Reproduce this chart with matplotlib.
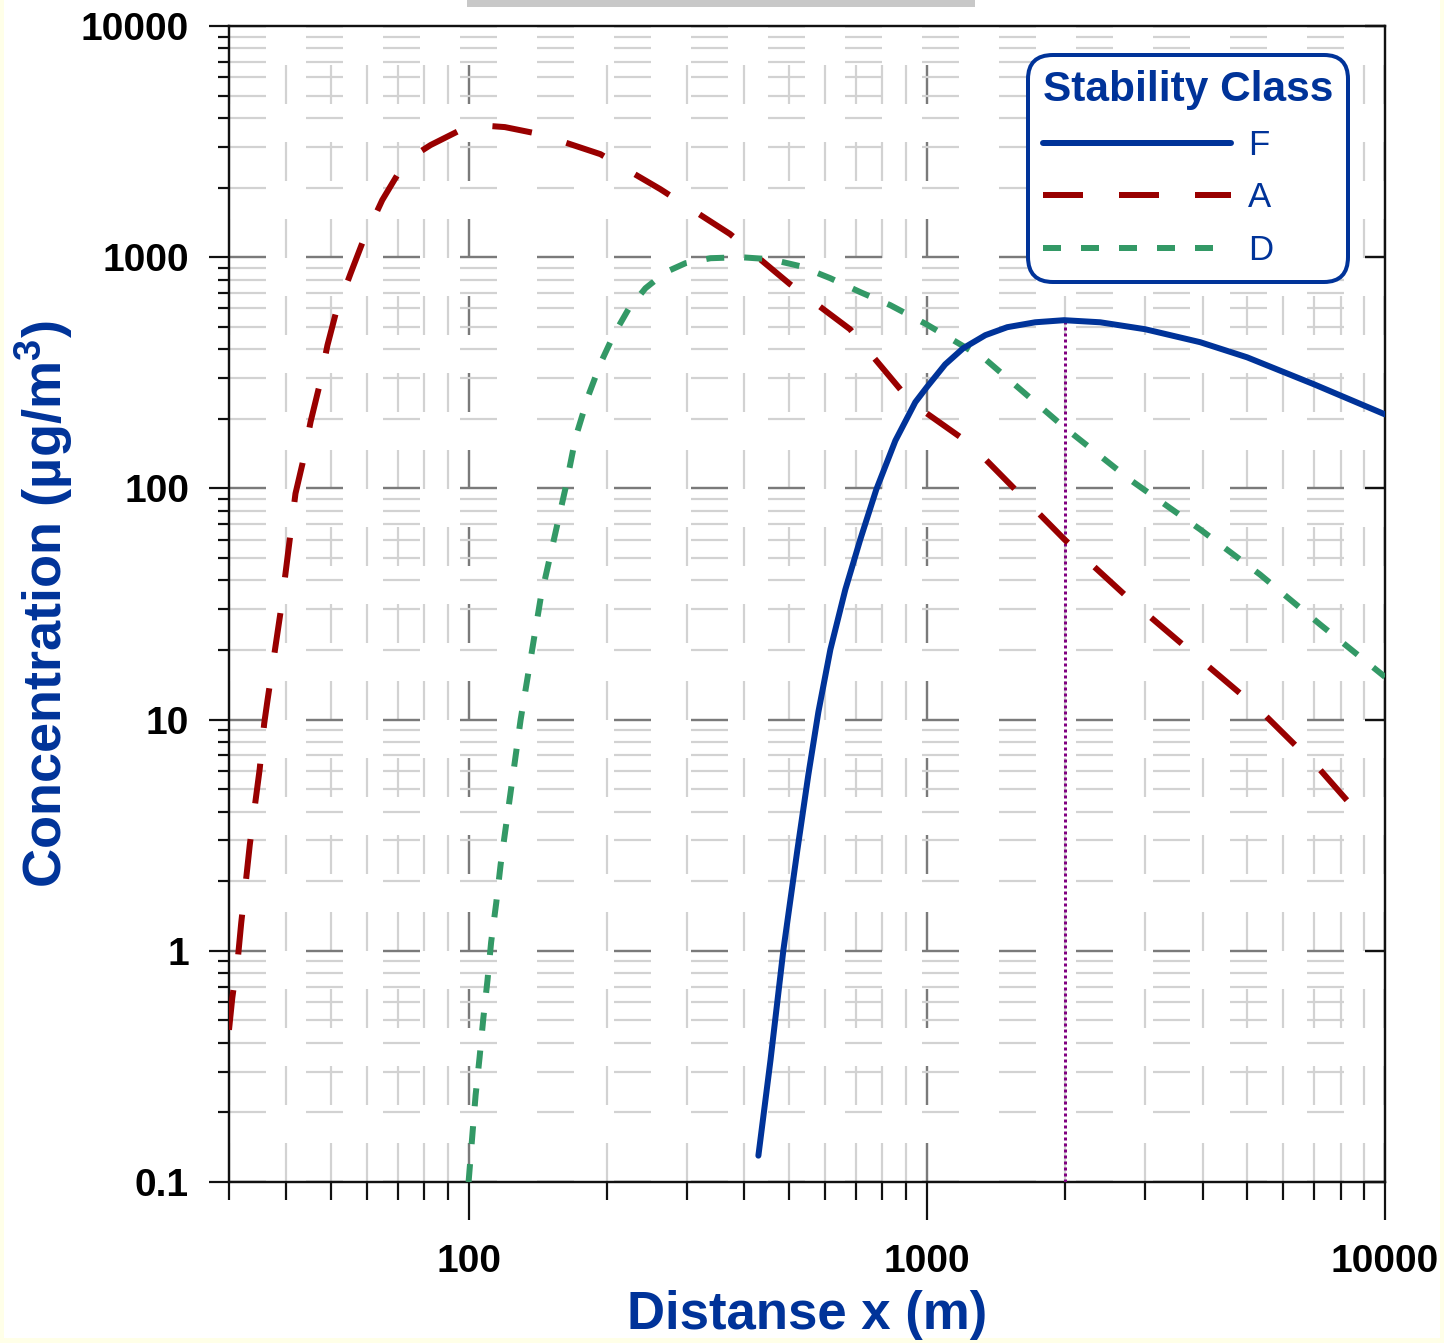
import matplotlib
matplotlib.use("Agg")
import matplotlib.pyplot as plt
from matplotlib.patches import Rectangle
from matplotlib.ticker import LogLocator, FixedLocator, NullFormatter, FixedFormatter

plt.rcParams['lines.scale_dashes'] = False
plt.rcParams['font.family'] = ['Liberation Sans', 'DejaVu Sans']
plt.rcParams['mathtext.fontset'] = 'custom'
plt.rcParams['mathtext.rm'] = 'Liberation Sans'
plt.rcParams['mathtext.bf'] = 'Liberation Sans:bold'
plt.rcParams['mathtext.it'] = 'Liberation Sans:italic'

# ---------------- data ----------------
x_F = [429, 456, 486.5, 522, 551.5, 580, 616, 664, 716, 776, 854, 944, 1000, 1097, 1201, 1342,
       1498, 1724, 1994, 2390, 2997, 3949, 5000, 7000, 10000]
y_F = [0.13, 0.3375, 1.01, 2.74, 5.78, 10.8, 20.1, 36.5, 60.2, 99, 161, 236, 274, 344, 404, 460,
       498, 523, 534, 523, 488, 429, 369, 282, 209]

x_A = [30, 30.5, 31.4, 31.9, 32.7, 33.3, 34.3, 35, 35.8, 36.4, 39, 41.9, 43.4, 45.2, 47.1, 49.2,
       51.3, 55.3, 58.6, 64.8, 70.3, 76, 82.6, 96, 110, 120, 143.6, 194, 262, 372, 503, 680, 926,
       1247, 2000, 2778, 3950, 5330, 7200, 8800]
y_A = [0.455, 0.626, 0.95, 1.32, 2.05, 2.87, 4.5, 6.1, 9.6, 12.1, 30.5, 95, 128, 194, 271, 416,
       572, 853, 1150, 1766, 2311, 2750, 3055, 3548, 3700, 3654, 3400, 2790, 1970, 1260, 764, 488, 235,
       155, 60, 33, 18.2, 11, 6.1, 3.88]

x_D = [100, 102, 103.6, 105.7, 107.7, 110, 112, 114.9, 117.5, 129.9, 143.6, 162.7, 171.2, 182.7,
       194.1, 207.2, 223.3, 243.2, 268.9, 297.4, 337.3, 392.1, 455.7, 529.9, 615.9, 716.1, 832.6,
       997.5, 1342, 1994, 2778, 3949, 5337, 7216, 10000]
y_D = [0.1, 0.163, 0.238, 0.347, 0.512, 0.75, 1.09, 1.61, 2.37, 10, 33.4, 100, 166, 253,
       348, 460, 596, 734, 861, 942, 990, 1000, 980, 914, 811, 706, 620,
       513, 362, 184, 109, 66.5, 42.4, 25.8, 15.3]

x_marker = 2000          # vertical dotted marker at F peak distance
y_marker_top = 539

y_ticks = [0.1, 1, 10, 100, 1000, 10000]
y_ticklabels = ['0.1', '1', '10', '100', '1000', '10000']
x_ticks = [100, 1000, 10000]
x_ticklabels = ['100', '1000', '10000']

labels = ['F', 'A', 'D']
legend_title = 'Stability Class'
xlabel = 'Distanse x (m)'
ylabel = r'Concentration (µg/m$^{\mathbf{3}}$)'

# ---------------- style ----------------
C_F = '#003399'
C_A = '#990000'
C_D = '#339966'
C_TXT = '#003399'
PX = 0.72  # points per pixel at dpi 100

W, H = 1444, 1343
fig = plt.figure(figsize=(W / 100, H / 100), dpi=100, facecolor='#FFFFE8')
fig.patches.append(Rectangle((4 / W, 1 - 1338 / H), (1440 - 4) / W, 1338 / H,
                             transform=fig.transFigure, facecolor='white', edgecolor='none', zorder=-10))
fig.patches.append(Rectangle((467 / W, 1 - 7 / H), (975 - 467) / W, 7 / H,
                             transform=fig.transFigure, facecolor='#C8C8C8', edgecolor='none', zorder=-5))

L, R, T, B = 229, 1385, 26, 1182
ax = fig.add_axes([L / W, 1 - B / H, (R - L) / W, (B - T) / H])
ax.set_xscale('log')
ax.set_yscale('log')
ax.set_xlim(30, 10000)
ax.set_ylim(0.1, 10000)

# ticks
ax.xaxis.set_major_locator(FixedLocator(x_ticks))
ax.xaxis.set_major_formatter(FixedFormatter(x_ticklabels))
ax.xaxis.set_minor_locator(LogLocator(base=10, subs=[2, 3, 4, 5, 6, 7, 8, 9]))
ax.xaxis.set_minor_formatter(NullFormatter())
ax.yaxis.set_major_locator(FixedLocator(y_ticks))
ax.yaxis.set_major_formatter(FixedFormatter(y_ticklabels))
ax.yaxis.set_minor_locator(LogLocator(base=10, subs=[2, 3, 4, 5, 6, 7, 8, 9]))
ax.yaxis.set_minor_formatter(NullFormatter())

tick_col = '#111111'
ax.tick_params(axis='y', which='major', direction='out', length=20 * PX, width=2.2 * PX,
               color=tick_col, labelsize=28, pad=20 * PX)
ax.tick_params(axis='y', which='minor', direction='out', length=11 * PX, width=2.2 * PX, color=tick_col)
ax.tick_params(axis='x', which='major', direction='out', length=38 * PX, width=2.2 * PX,
               color=tick_col, labelsize=28, pad=24 * PX)
ax.tick_params(axis='x', which='minor', direction='out', length=18 * PX, width=2.2 * PX, color=tick_col)
for lab in ax.get_xticklabels() + ax.get_yticklabels():
    lab.set_fontweight('bold')

for sp in ax.spines.values():
    sp.set_color('#111111')
    sp.set_linewidth(2.4 * PX)

# grid: dashed segments
h_dash = (0, (37 * PX, 40 * PX))
v_dash = (0, (39 * PX, 38 * PX))
ax.yaxis.grid(True, which='minor', color='#D2D2D2', linewidth=2.2 * PX, linestyle=h_dash)
ax.yaxis.grid(True, which='major', color='#7A7A7A', linewidth=2.4 * PX, linestyle=h_dash)
ax.xaxis.grid(True, which='minor', color='#D2D2D2', linewidth=2.2 * PX, linestyle=v_dash)
ax.xaxis.grid(True, which='major', color='#7A7A7A', linewidth=2.4 * PX, linestyle=v_dash)
ax.set_axisbelow(True)

# right side inward major ticks
ax2 = ax.twinx()
ax2.set_yscale('log')
ax2.set_ylim(0.1, 10000)
ax2.yaxis.set_major_locator(FixedLocator(y_ticks))
ax2.yaxis.set_minor_locator(FixedLocator([]))
ax2.tick_params(axis='y', which='major', direction='in', length=20 * PX, width=2.4 * PX,
                color='#111111', labelright=False)
for sp in ax2.spines.values():
    sp.set_visible(False)

# curves
lF, = ax.plot(x_F, y_F, color=C_F, linewidth=6 * PX, solid_capstyle='round',
              solid_joinstyle='round', label=labels[0], zorder=5)
lA, = ax.plot(x_A, y_A, color=C_A, linewidth=6 * PX, linestyle=(0, (40 * PX, 36 * PX)),
              label=labels[1], zorder=4)
lD, = ax.plot(x_D, y_D, color=C_D, linewidth=6 * PX, linestyle=(0, (18 * PX, 20 * PX)),
              label=labels[2], zorder=4)
ax.plot([x_marker, x_marker], [0.1, y_marker_top], color='#800080', linewidth=3 * PX,
        linestyle=(0, (3 * PX, 3 * PX)), zorder=3)

# labels
ax.set_xlabel(xlabel, fontsize=38, fontweight='bold', color=C_TXT, labelpad=7)
ax.set_ylabel(ylabel, fontsize=39, fontweight='bold', color=C_TXT, labelpad=4)

# legend
leg = ax.legend(handles=[lF, lA, lD], labels=labels, loc='upper right',
                bbox_to_anchor=(1348 / W, 1 - 55 / H), bbox_transform=fig.transFigure,
                borderaxespad=0, fontsize=25, labelcolor=C_TXT,
                title=legend_title,
                title_fontproperties={'size': 30.5, 'weight': 'bold', 'family': 'Liberation Sans'},
                handlelength=5.4, handletextpad=0.5, labelspacing=0.56,
                borderpad=0.42, alignment='left', frameon=True, fancybox=True, framealpha=1)
leg.get_title().set_color(C_TXT)
frame = leg.get_frame()
frame.set_edgecolor(C_TXT)
frame.set_linewidth(4 * PX)
frame.set_boxstyle('round,pad=0,rounding_size=0.7')
leg.set_zorder(10)

fig.savefig('out.png', dpi=100, facecolor=fig.get_facecolor())
